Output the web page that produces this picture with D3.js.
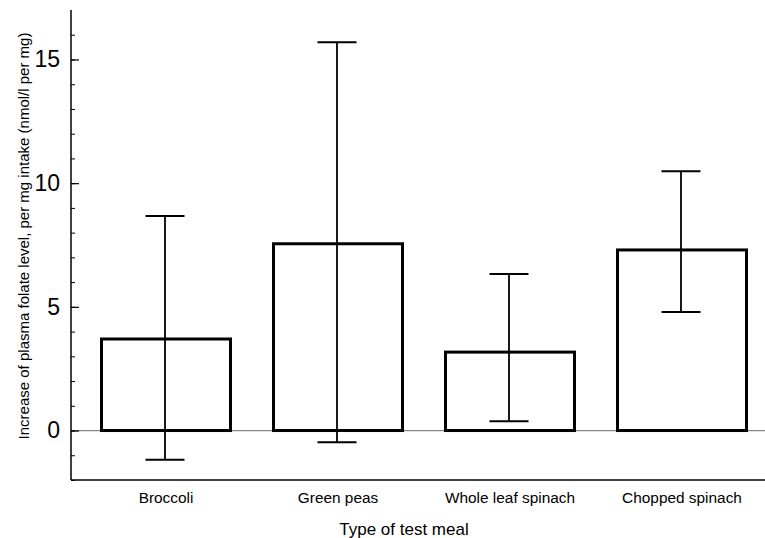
<!DOCTYPE html>
<html>
<head>
<meta charset="utf-8">
<script src="https://cdn.jsdelivr.net/npm/d3@7"></script>
<style>
body { margin: 0; background: #fff; }
svg { font-family: "Liberation Sans", Arial, sans-serif; }
</style>
</head>
<body>
<svg id="chart" width="765" height="538"></svg>
<script>
// Data
const meals = ["Broccoli", "Green peas", "Whole leaf spinach", "Chopped spinach"];
const means = [3.7, 7.55, 3.17, 7.3];
const upper = [8.67, 15.7, 6.33, 10.48];
const lower = [-1.18, -0.47, 0.38, 4.79];
const majorTicks = [0, 5, 10, 15];
const minorTicks = d3.range(-2, 17);

const W = 765;
const axisLeftX = 71, axisTopY = 10, axisBottomY = 480;

const Fig = d3.select("#chart");

const x = d3.scaleBand()
.domain(meals)
.range([80, 768])
.paddingInner(0.25)
.paddingOuter(0.125);

const y = d3.scaleLinear()
.domain([-2, 17])
.range([axisBottomY, axisTopY]);

// zero reference line
Fig.append("line")
.attr("x1", axisLeftX).attr("x2", W)
.attr("y1", y(0)).attr("y2", y(0))
.attr("stroke", "#888").attr("stroke-width", 1.2);

// Bars
Fig.selectAll(".bar")
.data(meals)
.join("rect")
.attr("class", "bar")
.attr("x", d => x(d))
.attr("width", x.bandwidth())
.attr("y", (d, i) => y(means[i]))
.attr("height", (d, i) => y(0) - y(means[i]))
.attr("fill", "none")
.attr("stroke", "black")
.attr("stroke-width", 3);

// Error bars
const capW = 39;
const eb = Fig.selectAll(".err")
.data(meals)
.join("g")
.attr("class", "err")
.attr("transform", d => `translate(${x(d) + x.bandwidth() / 2 - 1},0)`);

eb.append("line")
.attr("y1", (d, i) => y(upper[i]))
.attr("y2", (d, i) => y(lower[i]))
.attr("stroke", "black").attr("stroke-width", 1.8);

eb.append("line")
.attr("x1", -capW / 2).attr("x2", capW / 2)
.attr("y1", (d, i) => y(upper[i])).attr("y2", (d, i) => y(upper[i]))
.attr("stroke", "black").attr("stroke-width", 2);

eb.append("line")
.attr("x1", -capW / 2).attr("x2", capW / 2)
.attr("y1", (d, i) => y(lower[i])).attr("y2", (d, i) => y(lower[i]))
.attr("stroke", "black").attr("stroke-width", 2);

// Y axis: minor ticks (no labels), then major ticks with labels
Fig.append("g")
.attr("transform", `translate(${axisLeftX},0)`)
.call(d3.axisLeft(y).tickValues(minorTicks).tickSize(-4).tickFormat(""))
.call(g => g.select(".domain").remove())
.selectAll("line").attr("stroke", "black").attr("stroke-width", 1);

const yAxis = Fig.append("g")
.attr("transform", `translate(${axisLeftX},0)`)
.call(d3.axisLeft(y).tickValues(majorTicks).tickSize(-8).tickPadding(11).tickFormat(d3.format("d")));
yAxis.select(".domain").remove();
yAxis.selectAll("line").attr("stroke", "black").attr("stroke-width", 1.2);
yAxis.selectAll("text")
.attr("font-size", 23)
.attr("font-family", "Liberation Sans, Arial, sans-serif")
.attr("fill", "black");

// axis lines
Fig.append("line")
.attr("x1", axisLeftX).attr("x2", axisLeftX)
.attr("y1", axisTopY).attr("y2", axisBottomY)
.attr("stroke", "black").attr("stroke-width", 1.5);

Fig.append("line")
.attr("x1", axisLeftX).attr("x2", W)
.attr("y1", axisBottomY).attr("y2", axisBottomY)
.attr("stroke", "black").attr("stroke-width", 1.5);

// Category labels
Fig.selectAll(".cat")
.data(meals)
.join("text")
.attr("class", "cat")
.attr("x", d => x(d) + x.bandwidth() / 2)
.attr("y", 503)
.attr("text-anchor", "middle")
.attr("font-size", 15.4)
.attr("fill", "black")
.text(d => d);

// Axis titles
Fig.append("text")
.attr("x", 404)
.attr("y", 535)
.attr("text-anchor", "middle")
.attr("font-size", 17)
.attr("fill", "black")
.text("Type of test meal");

Fig.append("text")
.attr("transform", `translate(${29},${236}) rotate(-90)`)
.attr("text-anchor", "middle")
.attr("font-size", 15)
.attr("fill", "black")
.text("Increase of plasma folate level, per mg intake (nmol/l per mg)");
</script>
</body>
</html>
